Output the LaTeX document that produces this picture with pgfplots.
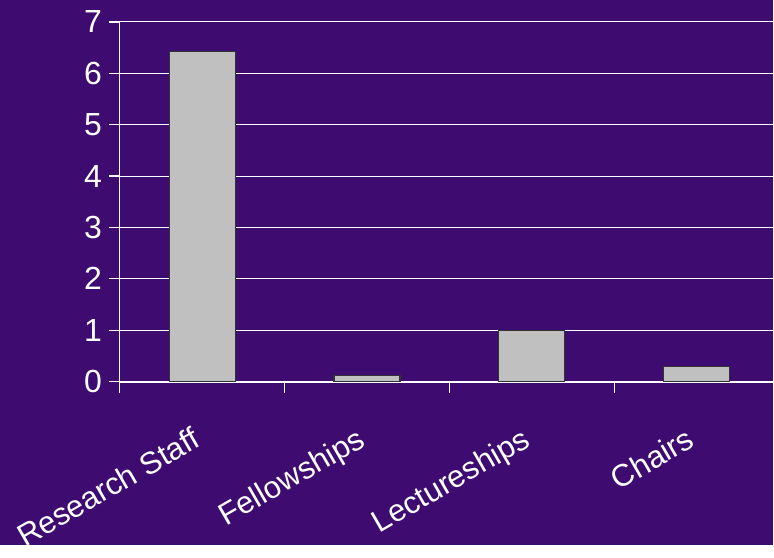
\documentclass[border=0pt]{standalone}
\usepackage{fontspec}
\setmainfont{Liberation Sans}
\usepackage{pgfplots}
\pgfplotsset{compat=1.18}
\definecolor{bgpurple}{RGB}{62,12,112}
\definecolor{bargray}{RGB}{192,192,192}
\pgfplotsset{
  layers/bars below axis/.define layer set = {
    axis background, axis grid, main, axis ticks, axis lines,
    axis tick labels, axis descriptions, axis foreground
  }{},
}
\begin{document}
\begin{tikzpicture}
\fill[bgpurple] (0,0) rectangle (387pt,273pt);
\begin{axis}[
  set layers = bars below axis,
  at = {(60pt,82pt)}, anchor = south west,
  scale only axis, width = 327pt, height = 180pt,
  xmin = -0.5, xmax = 3.4636, ymin = 0, ymax = 7,
  axis x line* = bottom, axis y line* = left,
  axis line style = {white, line width = 0.6pt},
  x axis line style = {line width = 1pt},
  tick align = outside,
  tick style = {white, line width = 0.6pt},
  major tick length = 5.5pt,
  ytick = {0,...,7},
  xtick = {-0.5,0.5,1.5,2.5},
  xticklabels = {},
  extra x ticks = {0,1,2,3},
  extra x tick labels = {Research Staff, Fellowships, Lectureships, Chairs},
  extra x tick style = {
    major tick length = 0pt,
    xticklabel style = {yshift = -17.5pt, xshift = -4.5pt, rotate = 30, anchor = north east,
      font = \fontsize{15.5}{18}\selectfont, text = white},
  },
  ymajorgrids,
  grid style = {white, line width = 0.5pt},
  yticklabel style = {font = \fontsize{16}{18}\selectfont, text = white},
  /pgf/number format/assume math mode = true,
]
  \addplot[ybar, bar width = 0.4, fill = bargray, draw = black!80, line width = 0.6pt]
    coordinates { (0,6.42) (1,0.12) (2,1.0) (3,0.3) };
\end{axis}
\end{tikzpicture}
\end{document}
